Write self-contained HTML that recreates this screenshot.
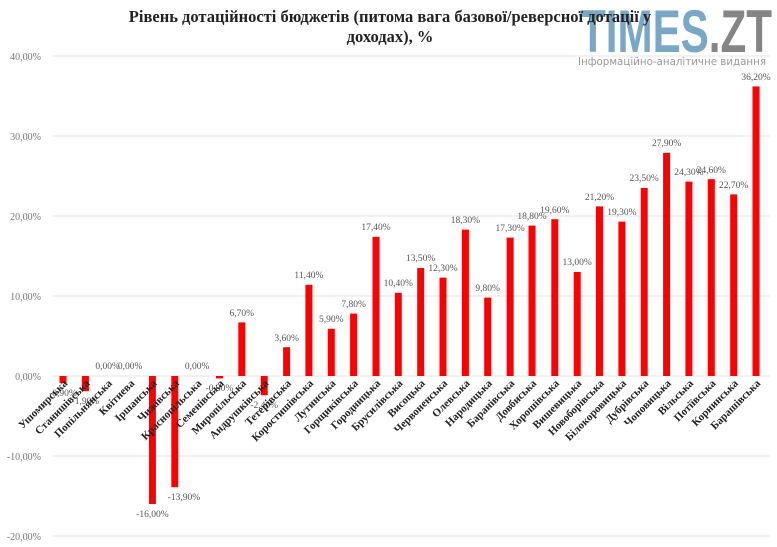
<!DOCTYPE html>
<html><head><meta charset="utf-8"><style>
body{margin:0;background:#fff;}
svg{display:block;}
.t{font-family:"Liberation Serif",serif;font-weight:bold;font-size:16.5px;fill:#222;}
.ax{font-family:"Liberation Serif",serif;font-size:10px;fill:#777;}
.dl{font-family:"Liberation Serif",serif;font-size:9.5px;fill:#555;text-anchor:middle;}
.cl{font-family:"Liberation Serif",serif;font-weight:bold;font-size:11px;fill:#222;text-anchor:end;}
.g{stroke:#e6e6e6;stroke-width:1;}
</style></head><body>
<svg width="777" height="547" viewBox="0 0 777 547">
<text x="676" y="52" font-family="Liberation Sans,sans-serif" font-weight="bold" font-size="60" text-anchor="middle" textLength="192" lengthAdjust="spacingAndGlyphs"><tspan fill="#78a8c6">TIMES</tspan><tspan fill="#858585">.ZT</tspan></text>
<text x="672" y="65" font-family="DejaVu Sans,sans-serif" font-size="10.5" fill="#999" text-anchor="middle" textLength="188" lengthAdjust="spacingAndGlyphs">Інформаційно-аналітичне видання</text>
<text x="390" y="22" class="t" text-anchor="middle">Рівень дотаційності бюджетів (питома вага базової/реверсної дотації у</text>
<text x="390" y="42" class="t" text-anchor="middle">доходах), %</text>
<g class="g">
<line x1="52" x2="770" y1="56" y2="56"/><line x1="52" x2="770" y1="136" y2="136"/>
<line x1="52" x2="770" y1="216" y2="216"/><line x1="52" x2="770" y1="296" y2="296"/>
<line x1="52" x2="770" y1="376" y2="376"/><line x1="52" x2="770" y1="456" y2="456"/>
<line x1="52" x2="770" y1="536" y2="536"/>
</g>
<g class="ax" text-anchor="end">
<text x="41" y="60">40,00%</text><text x="41" y="140">30,00%</text><text x="41" y="220">20,00%</text>
<text x="41" y="300">10,00%</text><text x="41" y="380">0,00%</text><text x="41" y="460">-10,00%</text>
<text x="41" y="540">-20,00%</text>
</g>
<g fill="#ff0000">
<rect x="59.5" y="376" width="7" height="7.2"/>
<rect x="81.9" y="376" width="7" height="15.2"/>
<rect x="148.9" y="376" width="7" height="128"/>
<rect x="171.3" y="376" width="7" height="111.2"/>
<rect x="216" y="376" width="7" height="2.4"/>
<rect x="238.3" y="322.4" width="7" height="53.6"/>
<rect x="260.7" y="376" width="7" height="19.2"/>
<rect x="283.1" y="347.2" width="7" height="28.8"/>
<rect x="305.4" y="284.8" width="7" height="91.2"/>
<rect x="327.8" y="328.8" width="7" height="47.2"/>
<rect x="350.1" y="313.6" width="7" height="62.4"/>
<rect x="372.5" y="236.8" width="7" height="139.2"/>
<rect x="394.8" y="292.8" width="7" height="83.2"/>
<rect x="417.2" y="268" width="7" height="108"/>
<rect x="439.5" y="277.6" width="7" height="98.4"/>
<rect x="461.9" y="229.6" width="7" height="146.4"/>
<rect x="484.2" y="297.6" width="7" height="78.4"/>
<rect x="506.6" y="237.6" width="7" height="138.4"/>
<rect x="528.5" y="225.6" width="7" height="150.4"/>
<rect x="551.3" y="219.2" width="7" height="156.8"/>
<rect x="573.7" y="272" width="7" height="104"/>
<rect x="596" y="206.4" width="7" height="169.6"/>
<rect x="618.4" y="221.6" width="7" height="154.4"/>
<rect x="640.7" y="188" width="7" height="188"/>
<rect x="663.1" y="152.8" width="7" height="223.2"/>
<rect x="685.4" y="181.6" width="7" height="194.4"/>
<rect x="707.8" y="179.2" width="7" height="196.8"/>
<rect x="730.2" y="194.4" width="7" height="181.6"/>
<rect x="752.5" y="86.4" width="7" height="289.6"/>
</g>
<g class="dl">
<text x="63" y="396">-0,90%</text>
<text x="85.4" y="404">-1,90%</text>
<text x="107.7" y="369">0,00%</text>
<text x="130.1" y="369">0,00%</text>
<text x="152.4" y="517">-16,00%</text>
<text x="184" y="500">-13,90%</text>
<text x="197.1" y="369">0,00%</text>
<text x="219.5" y="391">-0,30%</text>
<text x="241.8" y="316">6,70%</text>
<text x="264.2" y="408">-2,40%</text>
<text x="286.6" y="341">3,60%</text>
<text x="308.9" y="278">11,40%</text>
<text x="331.3" y="322">5,90%</text>
<text x="353.6" y="307">7,80%</text>
<text x="376" y="230">17,40%</text>
<text x="398.3" y="286">10,40%</text>
<text x="420.7" y="261">13,50%</text>
<text x="443" y="271">12,30%</text>
<text x="465.4" y="223">18,30%</text>
<text x="487.7" y="291">9,80%</text>
<text x="510.1" y="231">17,30%</text>
<text x="532" y="219">18,80%</text>
<text x="554.8" y="213">19,60%</text>
<text x="577.2" y="265">13,00%</text>
<text x="599.5" y="200">21,20%</text>
<text x="621.9" y="215">19,30%</text>
<text x="644.2" y="181">23,50%</text>
<text x="666.6" y="146">27,90%</text>
<text x="688.9" y="175">24,30%</text>
<text x="711.3" y="173">24,60%</text>
<text x="733.7" y="188">22,70%</text>
<text x="756" y="80">36,20%</text>
</g>
<g class="cl">
<text transform="translate(68,384) rotate(-45)">Ушомирська</text>
<text transform="translate(90.4,384) rotate(-45)">Станишівська</text>
<text transform="translate(112.7,384) rotate(-45)">Попільнянська</text>
<text transform="translate(135.1,384) rotate(-45)">Квітнева</text>
<text transform="translate(157.4,384) rotate(-45)">Іршанська</text>
<text transform="translate(179.8,384) rotate(-45)">Чижівська</text>
<text transform="translate(202.1,384) rotate(-45)">Краснопільська</text>
<text transform="translate(224.5,384) rotate(-45)">Семенівська</text>
<text transform="translate(246.8,384) rotate(-45)">Миропільська</text>
<text transform="translate(269.2,384) rotate(-45)">Андрушківська</text>
<text transform="translate(291.6,384) rotate(-45)">Тетерівська</text>
<text transform="translate(313.9,384) rotate(-45)">Коростишівська</text>
<text transform="translate(336.3,384) rotate(-45)">Лутинська</text>
<text transform="translate(358.6,384) rotate(-45)">Горщиківська</text>
<text transform="translate(381,384) rotate(-45)">Городницька</text>
<text transform="translate(403.3,384) rotate(-45)">Брусилівська</text>
<text transform="translate(425.7,384) rotate(-45)">Висоцька</text>
<text transform="translate(448,384) rotate(-45)">Червоненська</text>
<text transform="translate(470.4,384) rotate(-45)">Олевська</text>
<text transform="translate(492.7,384) rotate(-45)">Народицька</text>
<text transform="translate(515.1,384) rotate(-45)">Баранівська</text>
<text transform="translate(537,384) rotate(-45)">Довбиська</text>
<text transform="translate(559.8,384) rotate(-45)">Хорошівська</text>
<text transform="translate(582.2,384) rotate(-45)">Вишевицька</text>
<text transform="translate(604.5,384) rotate(-45)">Новоборівська</text>
<text transform="translate(626.9,384) rotate(-45)">Білокоровицька</text>
<text transform="translate(649.2,384) rotate(-45)">Дубрівська</text>
<text transform="translate(671.6,384) rotate(-45)">Чоповицька</text>
<text transform="translate(693.9,384) rotate(-45)">Вільська</text>
<text transform="translate(716.3,384) rotate(-45)">Потіївська</text>
<text transform="translate(738.7,384) rotate(-45)">Корнинська</text>
<text transform="translate(761,384) rotate(-45)">Барашівська</text>
</g>
</svg>
</body></html>
